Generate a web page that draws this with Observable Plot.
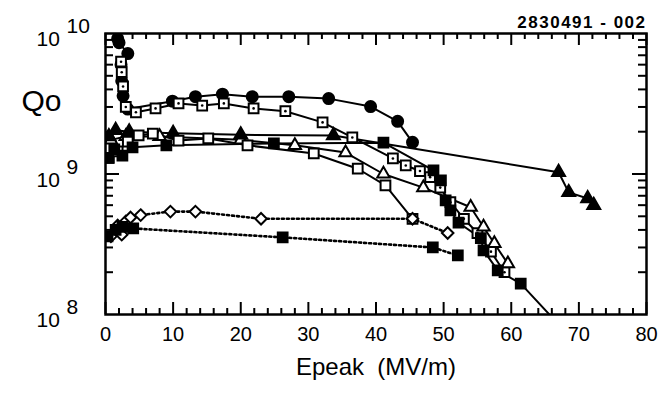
<!DOCTYPE html>
<html><head><meta charset="utf-8">
<script src="https://cdn.jsdelivr.net/npm/d3@7"></script>
<script src="https://cdn.jsdelivr.net/npm/@observablehq/plot@0.6"></script>
<style>body{margin:0;background:#fff}</style>
</head><body><div id="chart"></div>
<script>
// Each series: [Epeak (MV/m), Qo]
const filledCircles = [[1.8,9.2e9],[2.0,8.6e9],[3.3,7.2e9],[2.3,6.0e9],[2.4,4.6e9],[2.6,3.6e9],[3.3,2.9e9],[9.9,3.3e9],[13.3,3.55e9],[17.3,3.7e9],[21.7,3.55e9],[27.1,3.55e9],[33,3.44e9],[39.2,3.02e9],[43.2,2.37e9],[45.4,1.68e9]];
const dotSquares = [[2.3,6.3e9],[2.4,5.3e9],[2.6,4.2e9],[3.0,3.0e9],[4.5,2.75e9],[7.4,2.93e9],[10.8,3.18e9],[14.3,3.07e9],[17.5,3.18e9],[21.9,2.93e9],[26.6,2.8e9],[32.1,2.33e9],[36.5,1.82e9],[42.5,1.29e9],[44.4,1.15e9],[46.5,1.05e9],[48,9.5e8],[49.5,8e8],[51,6.3e8],[53,4.8e8],[55,3.8e8],[57,2.8e8],[59,2.0e8]];
const openTriangles = [[0.8,1.75e9],[3,1.85e9],[8,1.85e9],[20,1.75e9],[28,1.6e9],[35.5,1.42e9],[41.1,1.0e9],[47,8e8],[54,5.8e8],[55.9,4.2e8],[57.5,3.2e8],[59.5,2.3e8]];
const filledTriangles = [[0.5,1.85e9],[1.5,2.05e9],[3.5,2.0e9],[10,1.95e9],[20,1.9e9],[33.7,1.88e9],[67,1.03e9],[68.5,7.4e8],[71.3,6.7e8],[72.2,6.0e8]];
const openSquares = [[0.5,1.3e9],[1.8,1.45e9],[3.3,1.7e9],[4.9,1.88e9],[7.0,1.94e9],[10.8,1.73e9],[15.2,1.79e9],[21.0,1.6e9],[30.8,1.4e9],[37.3,1.09e9],[41.4,8.3e8],[45.4,4.8e8]];
const filledSquares = [[0.4,1.3e9],[1.3,1.5e9],[2.5,1.35e9],[4,1.55e9],[9,1.6e9],[24.9,1.65e9],[41.1,1.67e9],[48.5,1.06e9],[49.6,9.0e8],[50.3,6.5e8],[51,5.5e8],[52.2,4.5e8],[55.5,3.5e8],[55.9,2.86e8],[58,2.06e8],[61.4,1.66e8],[67,8.5e7]];
const openDiamondsDotted = [[0.8,3.6e8],[1.8,4.3e8],[2.4,3.7e8],[3.0,4.6e8],[3.7,4.9e8],[5.2,5.1e8],[9.6,5.4e8],[13.3,5.4e8],[23,4.8e8],[45.4,4.8e8],[50.6,3.8e8]];
const filledSquaresDotted = [[0.3,3.6e8],[1.5,4.0e8],[2.5,4.2e8],[4.1,4.1e8],[26.2,3.54e8],[48.4,3.0e8],[52.1,2.63e8]];

const xMajorTicks = [0,10,20,30,40,50,60,70,80];
const xMinorTicks = [2,4,6,8,12,14,16,18,22,24,26,28,32,34,36,38,42,44,46,48,52,54,56,58,62,64,66,68,72,74,76,78];
const yMajorTicks = [1e9];
const yMinorTicks = [2e8,3e8,4e8,5e8,6e8,7e8,8e8,9e8,2e9,3e9,4e9,5e9,6e9,7e9,8e9,9e9];
const yLabelExps = [8,9,10];

const W = 658, H = 393, mL = 105, mR = 12, mT = 33, mB = 79;
const plotW = W - mL - mR, plotH = H - mT - mB;
const X = d => d[0], Y = d => d[1];

// square turned on its corner
const diamondSym = {draw(ctx, size) {
  const h = Math.sqrt(size) / Math.SQRT2;
  ctx.moveTo(0, -h); ctx.lineTo(h, 0); ctx.lineTo(0, h); ctx.lineTo(-h, 0); ctx.closePath();
}};

const lineSeries = [
  [filledCircles, null], [dotSquares, null], [openTriangles, null], [filledTriangles, null],
  [openSquares, null], [filledSquares, null], [openDiamondsDotted, "2,3"], [filledSquaresDotted, "2,3"]
];
const dotSeries = [
  [filledCircles, "circle", "black", 5.5],
  [dotSquares, "square", "white", 5.5],
  [openTriangles, "triangle", "white", 4.6],
  [filledTriangles, "triangle", "black", 4.8],
  [openSquares, "square", "white", 5.5],
  [filledSquares, "square", "black", 5.5],
  [openDiamondsDotted, diamondSym, "white", 4.6],
  [filledSquaresDotted, "square", "black", 5.5]
];

const marks = [];
for (const [data, dash] of lineSeries) {
  marks.push(Plot.line(data, {x: X, y: Y, stroke: "black", strokeWidth: dash ? 2.6 : 2, strokeDasharray: dash || undefined, clip: true}));
}
for (const [data, symbol, fill, r] of dotSeries) {
  marks.push(Plot.dot(data, {x: X, y: Y, symbol, fill, r, stroke: "black", strokeWidth: 2, clip: true}));
}
marks.push(Plot.dot(dotSquares, {x: X, y: Y, r: 1.3, fill: "black", clip: true}));

// ticks (inward)
marks.push(
  Plot.ruleX(xMajorTicks, {x: d => d, insetTop: plotH - 12, strokeWidth: 2}),
  Plot.ruleX(xMinorTicks, {x: d => d, insetTop: plotH - 6, strokeWidth: 2}),
  Plot.ruleX(xMajorTicks, {x: d => d, insetBottom: plotH - 12, strokeWidth: 2}),
  Plot.ruleX(xMinorTicks, {x: d => d, insetBottom: plotH - 6, strokeWidth: 2}),
  Plot.ruleY(yMajorTicks, {y: d => d, insetRight: plotW - 14, strokeWidth: 2}),
  Plot.ruleY(yMinorTicks, {y: d => d, insetRight: plotW - 8, strokeWidth: 2}),
  Plot.ruleY(yMajorTicks, {y: d => d, insetLeft: plotW - 14, strokeWidth: 2}),
  Plot.ruleY(yMinorTicks, {y: d => d, insetLeft: plotW - 8, strokeWidth: 2}),
  Plot.frame({stroke: "black", strokeWidth: 2.5})
);

// tick labels
marks.push(
  Plot.text(xMajorTicks, {x: d => d, frameAnchor: "bottom", dy: 26, text: d => String(d), fontSize: 20, fill: "black"}),
  Plot.text(yLabelExps, {y: d => 10 ** d, frameAnchor: "left", dx: -69, dy: 6, text: () => "10", textAnchor: "start", fontSize: 21, fill: "black"}),
  Plot.text(yLabelExps, {y: d => 10 ** d, frameAnchor: "left", dx: -39, dy: -7, text: d => String(d), textAnchor: "start", fontSize: 21, fill: "black"}),
  Plot.text(["Qo"], {frameAnchor: "top-left", dx: -84, dy: 56, text: d => d, textAnchor: "start", fontSize: 30, fill: "black"}),
  Plot.text(["Epeak  (MV/m)"], {frameAnchor: "bottom", dy: 60, text: d => d, fontSize: 24, fill: "black"}),
  Plot.text(["2830491 - 002"], {frameAnchor: "top-right", dy: -18, text: d => d, textAnchor: "end", fontSize: 17, fontWeight: "bold", fill: "black"})
);

const chart = Plot.plot({
  width: W, height: H,
  marginLeft: mL, marginRight: mR, marginTop: mT, marginBottom: mB,
  style: {fontFamily: "'Liberation Sans', Arial, sans-serif", background: "white"},
  x: {domain: [0, 80], axis: null},
  y: {type: "log", domain: [1e8, 1e10], axis: null},
  marks
});
d3.select(chart).selectAll("text").filter(function() { return this.textContent === "2830491 - 002"; })
  .attr("letter-spacing", "1.5px");
document.getElementById("chart").appendChild(chart);
</script>
</body></html>
